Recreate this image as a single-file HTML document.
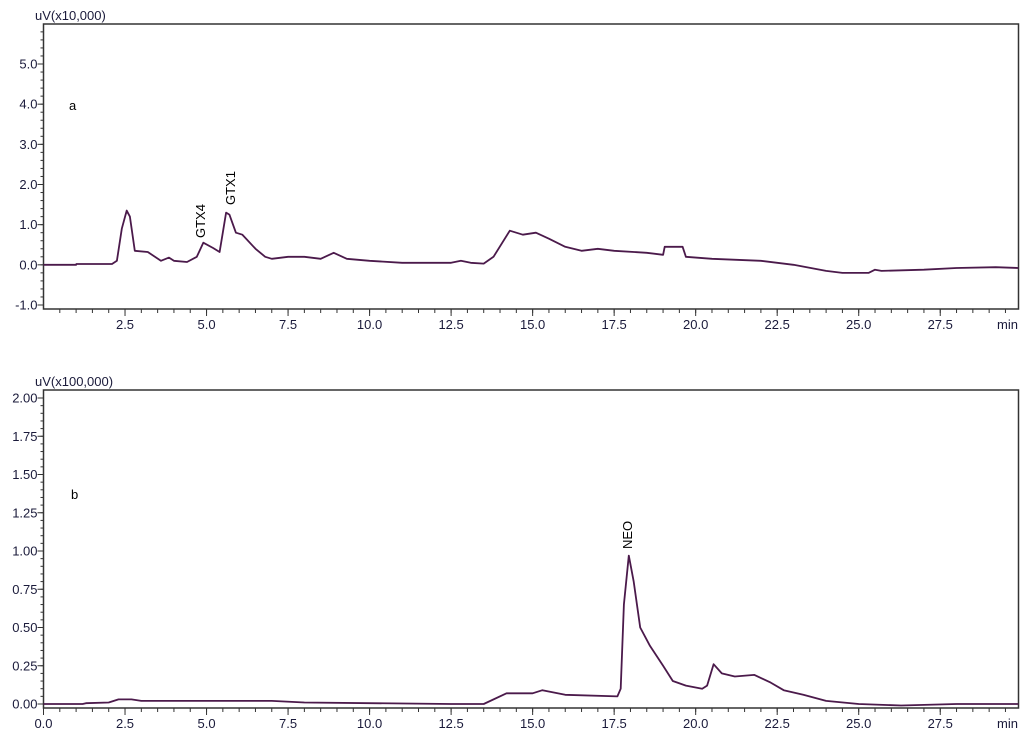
<!DOCTYPE html>
<html><head><meta charset="utf-8"><style>
body{margin:0;background:#fff;}
svg{display:block;font-family:"Liberation Sans",sans-serif;}
</style></head><body>
<svg id="c" width="1024" height="738"></svg>
<script>
const timesA=[0,1,1.01,2.1,2.25,2.4,2.55,2.65,2.8,3.2,3.6,3.85,4.0,4.4,4.7,4.9,5.2,5.4,5.5,5.6,5.7,5.9,6.1,6.5,6.8,7.0,7.5,8.0,8.5,8.9,9.3,10,11,12.5,12.8,13.1,13.5,13.8,14.3,14.7,15.1,15.5,16,16.5,17,17.5,18.5,19,19.05,19.6,19.7,20.5,22,23,24,24.5,25.3,25.5,25.7,27,28,29.2,29.9];
const valuesA=[0,0,0.02,0.02,0.1,0.9,1.35,1.2,0.35,0.32,0.1,0.18,0.1,0.07,0.2,0.55,0.42,0.32,0.8,1.3,1.25,0.8,0.75,0.4,0.2,0.15,0.2,0.2,0.15,0.3,0.15,0.1,0.05,0.05,0.1,0.05,0.03,0.2,0.85,0.75,0.8,0.65,0.45,0.35,0.4,0.35,0.3,0.25,0.45,0.45,0.2,0.15,0.1,0.0,-0.15,-0.2,-0.2,-0.12,-0.15,-0.12,-0.08,-0.06,-0.08];
const timesB=[0,1.2,1.3,2.0,2.3,2.7,3.0,7.0,8,12.5,13.5,14.2,15,15.3,16,17.6,17.7,17.8,17.95,18.1,18.3,18.6,19,19.3,19.7,20.2,20.35,20.55,20.8,21.2,21.8,22.3,22.7,23.3,24,25,26.3,28,29.9];
const valuesB=[0,0,0.005,0.01,0.03,0.03,0.02,0.02,0.01,0.0,0.0,0.07,0.07,0.09,0.06,0.05,0.1,0.65,0.97,0.8,0.5,0.38,0.25,0.15,0.12,0.1,0.12,0.26,0.2,0.18,0.19,0.14,0.09,0.06,0.02,0.0,-0.01,0.0,0.0];
const xTicks=[2.5,5.0,7.5,10.0,12.5,15.0,17.5,20.0,22.5,25.0,27.5];
const xTicksB=[0.0,2.5,5.0,7.5,10.0,12.5,15.0,17.5,20.0,22.5,25.0,27.5];
const yTicksA=[-1.0,0.0,1.0,2.0,3.0,4.0,5.0];
const yTicksB=[0.00,0.25,0.50,0.75,1.00,1.25,1.50,1.75,2.00];

const NS="http://www.w3.org/2000/svg";
const svg=document.getElementById('c');
function mk(tag,attrs,parent){const e=document.createElementNS(NS,tag);for(const k in attrs)e.setAttribute(k,attrs[k]);(parent||svg).appendChild(e);return e;}
const X0=43.5,X1=1018.5,T0=0,T1=29.9;
const xs=t=>X0+(t-T0)/(T1-T0)*(X1-X0);

function panel(name,top,bottom,ys,yMin,yMax,yMinor,yDec,xt,unit,times,vals,letter,lx,ly){
  const g=mk('g',{});
  
  
  const yv=v=>bottom-4-(v-yMin)/(yMax-yMin)*(bottom-4-top-(top<300?40:8));
  const frame=mk('rect',{x:X0,y:top,width:X1-X0,height:bottom-top,fill:'none',stroke:'#333','stroke-width':1.5},g);
  
  
  for(let v=yMin;v<=yMax+1e-9;v+=yMinor){
    const y=yv(v);
    mk('line',{x1:X0-3,x2:X0,y1:y,y2:y,stroke:'#333'},g);
  }
  for(let v=yMax+yMinor;yv(v)>top+2;v+=yMinor){const y=yv(v);mk('line',{x1:X0-3,x2:X0,y1:y,y2:y,stroke:'#333'},g);}
  ys.forEach(v=>{const y=yv(v);mk('line',{x1:X0-6,x2:X0,y1:y,y2:y,stroke:'#333'},g);
    const t=mk('text',{x:X0-6,y:y+4.5,'text-anchor':'end','font-size':13,fill:'#1a1a3a'},g);t.textContent=v.toFixed(yDec);
    });
  const ut=mk('text',{x:35,y:top-4,'font-size':13,fill:'#1a1a3a'},g);ut.textContent=unit;
  
  for(let t=0.5;t<T1;t+=0.5){const x=xs(t);mk('line',{x1:x,x2:x,y1:bottom,y2:bottom+4,stroke:'#333'},g);}
  xt.forEach(v=>{const x=xs(v);mk('line',{x1:x,x2:x,y1:bottom,y2:bottom+7,stroke:'#333'},g);
    const t=mk('text',{x:x,y:bottom+20,'text-anchor':'middle','font-size':13,fill:'#1a1a3a'},g);t.textContent=v.toFixed(1);
    });
  const mt=mk('text',{x:1018,y:bottom+20,'text-anchor':'end','font-size':13,fill:'#1a1a3a'},g);mt.textContent='min';
  
  const pts=times.map((t,i)=>xs(t).toFixed(1)+','+yv(vals[i]).toFixed(1)).join(' ');
  const pl=mk('polyline',{points:pts,fill:'none',stroke:'#4b1a4b','stroke-width':1.8,'stroke-linejoin':'round'},g);
  
  const lt=mk('text',{x:lx,y:ly,'font-size':13,fill:'#000'},g);lt.textContent=letter;
  
  return yv;
}
panel('panel-a',24,309,yTicksA,-1.0,5.0,0.2,1,xTicks,'uV(x10,000)',timesA,valuesA,'a',69,110);
panel('panel-b',390,708,yTicksB,0,2.0,0.05,2,xTicksB,'uV(x100,000)',timesB,valuesB,'b',71,499);

function peak(label,x,y){const t=mk('text',{x:0,y:0,'font-size':13,fill:'#000',transform:`translate(${x},${y}) rotate(-90)`});t.textContent=label;
  }
peak('GTX4',205,238);
peak('GTX1',235,205);
peak('NEO',632,549);
</script>
</body></html>
